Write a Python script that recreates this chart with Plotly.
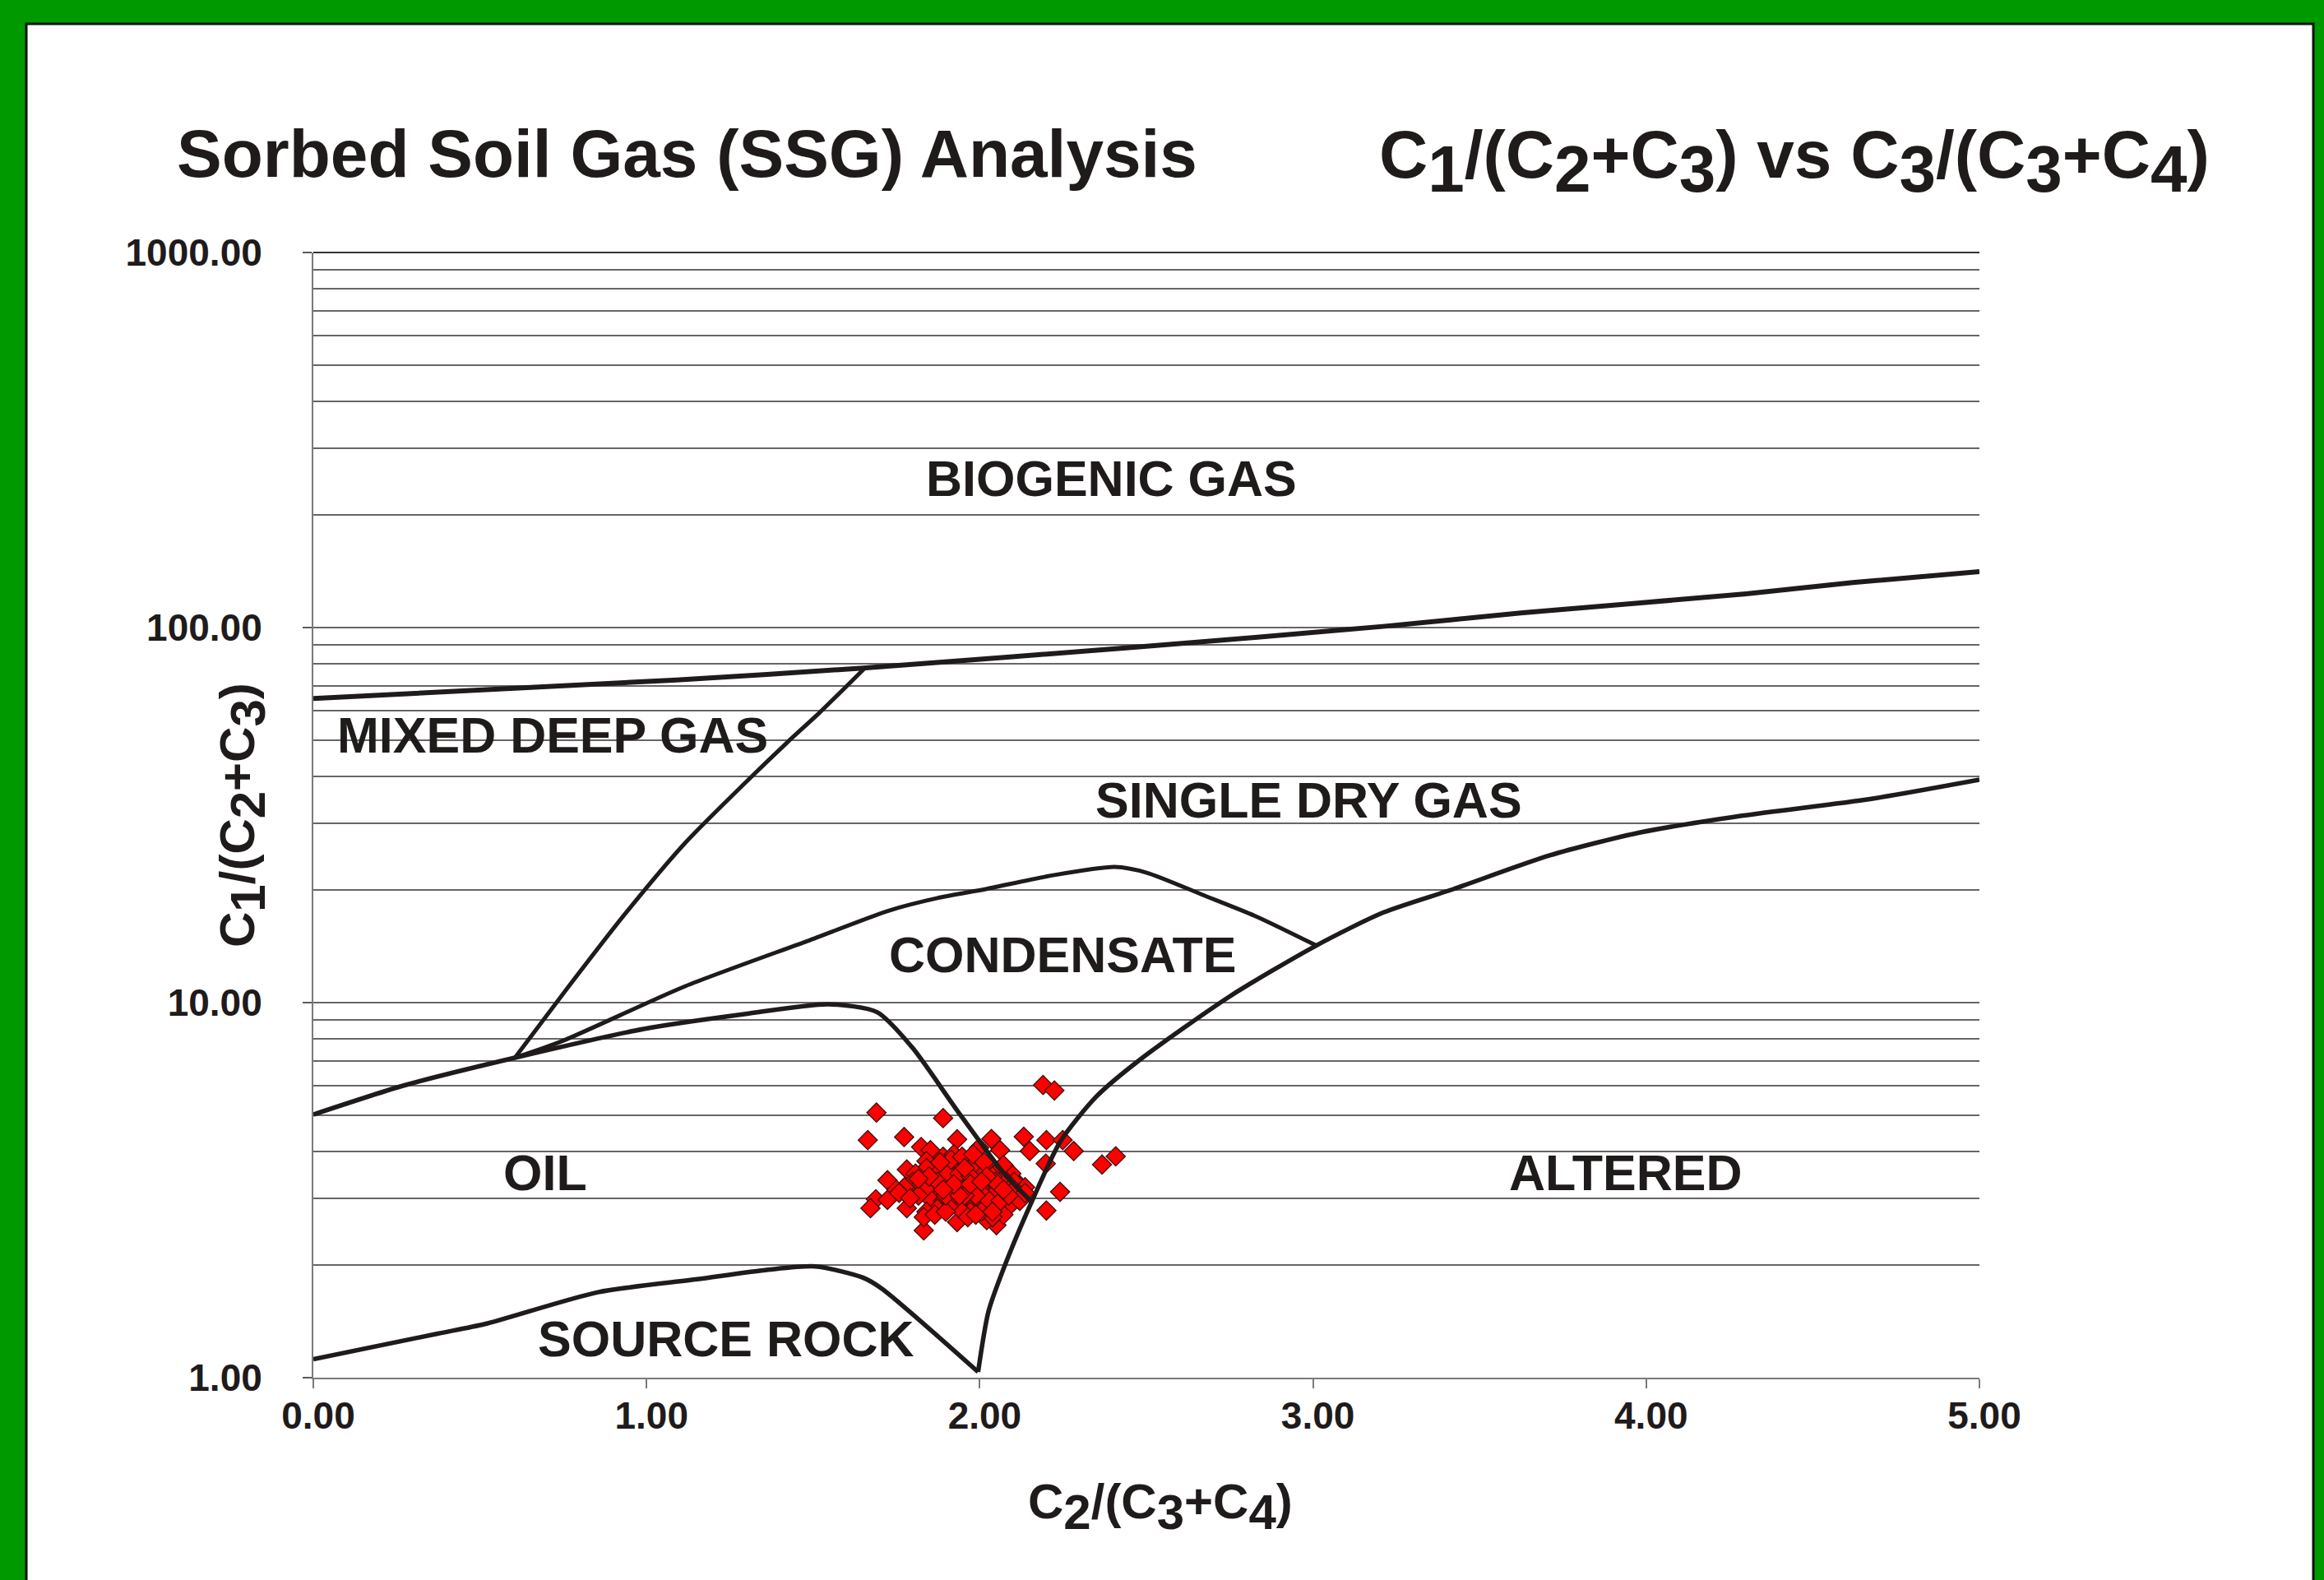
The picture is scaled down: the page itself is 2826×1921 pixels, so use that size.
import numpy as np
import plotly.graph_objects as go

# ---------------- data ----------------
# boundary curves (x = C2/(C3+C4), y = C1/(C2+C3))
biogenic_x = [0.00, 1.09, 1.65, 2.47, 3.21, 3.63, 4.30, 4.62, 5.00]
biogenic_y = [64.7, 72.5, 78.0, 88.7, 100.7, 109.5, 123.0, 131.8, 141.0]

mixed_x = [0.605, 0.758, 0.930, 1.115, 1.298, 1.421, 1.520, 1.655]
mixed_y = [7.13, 10.8, 17.0, 26.6, 38.7, 49.3, 59.4, 78.0]

oil_x = [0.00, 0.274, 0.605, 0.992, 1.298, 1.545, 1.692, 1.797, 1.932, 2.073, 2.153]
oil_y = [5.03, 6.02, 7.13, 8.51, 9.33, 9.90, 9.43, 7.60, 5.16, 3.50, 2.96]

cond_x = [0.605, 0.746, 1.115, 1.483, 1.728, 1.873, 2.021, 2.213, 2.405, 2.501, 2.674, 2.828, 3.010]
cond_y = [7.13, 7.89, 11.05, 14.6, 17.6, 19.0, 20.1, 21.8, 23.0, 22.2, 19.3, 17.0, 14.2]

source_x = [0.00, 0.373, 0.515, 0.854, 1.152, 1.365, 1.507, 1.648, 1.705, 1.995]
source_y = [1.12, 1.31, 1.39, 1.69, 1.83, 1.94, 1.98, 1.85, 1.73, 1.036]

altered_x = [1.995, 2.026, 2.076, 2.160, 2.243, 2.350, 2.482, 2.751,
             3.010, 3.212, 3.423, 3.711, 3.980, 4.287, 4.672, 5.00]
altered_y = [1.036, 1.50, 2.00, 3.00, 4.28, 5.62, 7.06, 10.4,
             14.2, 17.4, 20.1, 24.7, 28.4, 31.5, 34.9, 39.3]

# sample points
ssg_x = [2.190, 2.224, 1.690, 1.890, 1.664, 1.773, 1.932, 2.035, 2.132, 2.200,
         2.249, 1.998, 2.061, 2.150, 2.282, 2.408, 2.367, 2.198, 2.241, 2.200,
         1.824, 1.852, 1.723, 1.781, 1.688, 1.723, 1.672, 1.781, 1.832, 1.932,
         2.050, 2.021,
         1.840, 1.890, 1.922, 1.955, 1.988, 2.021, 2.054, 2.095, 2.120, 2.103,
         2.136, 2.071, 2.038, 2.005, 1.972, 1.939, 1.906, 1.873, 1.840, 1.807,
         1.799, 1.774, 1.750, 1.758, 1.824, 1.857, 1.890, 1.922, 1.955, 1.988,
         2.021, 2.054, 2.087, 2.120, 2.103, 2.071, 2.038, 2.005, 1.972, 1.939,
         1.906, 1.873, 1.840, 1.816, 1.791, 1.857, 1.890, 1.922, 1.955, 1.988,
         2.021, 2.054, 2.087, 2.120, 2.071, 2.038, 2.005, 1.972, 1.939, 1.906,
         1.873, 1.840, 1.832, 1.865, 1.898, 1.964, 1.988, 1.873, 1.906, 1.939,
         1.972, 2.071, 2.103, 2.136, 1.914, 1.881, 1.947, 1.980, 2.013, 2.046,
         2.029, 2.062, 1.988, 1.955, 1.898, 1.873, 1.848, 1.816,
         2.021, 1.939, 1.922, 1.972, 2.038, 2.087, 1.890, 2.005, 1.955, 2.071]
ssg_y = [6.03, 5.83, 5.09, 4.92, 4.30, 4.38, 4.32, 4.33, 4.39, 4.30,
         4.30, 4.10, 4.04, 4.02, 4.02, 3.89, 3.70, 3.72, 3.13, 2.79,
         4.12, 4.04, 3.36, 3.59, 2.99, 2.98, 2.83, 2.83, 2.47, 2.60,
         2.55, 2.63,
         3.78, 3.88, 3.94, 3.81, 3.75, 3.62, 3.56, 3.50, 3.26, 3.33,
         3.22, 3.39, 3.44, 3.50, 3.62, 3.69, 3.69, 3.62, 3.62, 3.50,
         3.33, 3.22, 3.17, 3.11, 3.28, 3.33, 3.39, 3.44, 3.39, 3.33,
         3.28, 3.22, 3.17, 3.06, 2.96, 3.01, 3.06, 3.11, 3.17, 3.22,
         3.17, 3.17, 3.17, 3.06, 3.01, 2.96, 2.96, 3.01, 2.96, 2.91,
         2.86, 2.86, 2.86, 2.96, 2.72, 2.68, 2.77, 2.77, 2.82, 2.86,
         2.82, 2.77, 2.68, 2.72, 2.77, 2.68, 2.72, 3.50, 3.50, 3.50,
         3.44, 3.69, 3.17, 3.11, 3.81, 3.75, 3.88, 3.94, 3.75, 3.33,
         2.96, 2.96, 3.06, 3.06, 3.06, 3.33, 3.44, 3.39,
         3.44, 3.06, 3.28, 3.28, 2.77, 3.06, 3.17, 3.33, 3.62, 3.17]

region_labels = ["BIOGENIC GAS", "MIXED DEEP GAS", "SINGLE DRY GAS", "CONDENSATE",
                 "OIL", "ALTERED", "SOURCE ROCK"]

x_tickvals = [0, 1, 2, 3, 4, 5]
x_ticktext = ["0.00", "1.00", "2.00", "3.00", "4.00", "5.00"]
y_tickvals = [1, 10, 100, 1000]
y_ticktext = ["1.00", "10.00", "100.00", "1000.00"]

title_left = "Sorbed Soil Gas (SSG) Analysis"

# ---------------- figure ----------------
W, H = 2826, 1921
L, R, T, B = 381, 2826 - 2407, 307, 1921 - 1675
PW, PH = W - L - R, H - T - B

def px_x(p):
    return (p - L) / PW

def px_y(p):
    return (H - B - p) / PH

FONT = "Liberation Sans, Arial, Helvetica, sans-serif"
TXT = "#1f1b1b"
LINE = "#1f1b1b"

fig = go.Figure()

fig.add_trace(go.Scatter(
    x=ssg_x, y=ssg_y, mode="markers",
    marker=dict(symbol="diamond", size=18, color="#ff0000",
                line=dict(color="#3a1010", width=1.3)),
    showlegend=False, hoverinfo="x+y"))

curves = [(biogenic_x, biogenic_y, 6), (mixed_x, mixed_y, 5), (oil_x, oil_y, 5.5),
          (cond_x, cond_y, 5), (source_x, source_y, 5.5), (altered_x, altered_y, 5.5)]
for cx, cy, w in curves:
    fig.add_trace(go.Scatter(x=cx, y=cy, mode="lines",
                             line=dict(color=LINE, width=w, shape="spline", smoothing=0.7),
                             showlegend=False, hoverinfo="skip"))

label_pos = [(2.396, 2.397), (0.719, 1.713), (2.987, 1.539), (2.249, 1.128),
             (0.697, 0.547), (3.94, 0.547), (1.239, 0.104)]
for txt, (lx, ly) in zip(region_labels, label_pos):
    fig.add_annotation(x=lx, y=ly, xref="x", yref="y", text=txt, showarrow=False,
                       font=dict(family=FONT, size=61, color=TXT, weight="bold"),
                       xanchor="center", yanchor="middle")

def sub(d, size):
    return "<sub><span style='font-size:%dpx'>%s</span></sub>" % (size, d)

# titles
fig.add_annotation(x=px_x(213), y=px_y(187), xref="paper", yref="paper",
                   text=title_left, showarrow=False, xanchor="left", yanchor="middle",
                   font=dict(family=FONT, size=82, color=TXT, weight="bold"))
s = 80
title_right = ("C" + sub("1", s) + "/(C" + sub("2", s) + "+C" + sub("3", s) + ") vs C" + sub("3", s)
               + "/(C" + sub("3", s) + "+C" + sub("4", s) + ")")
fig.add_annotation(x=px_x(2689), y=px_y(196), xref="paper", yref="paper",
                   text=title_right, showarrow=False, xanchor="right", yanchor="middle",
                   font=dict(family=FONT, size=82, color=TXT, weight="bold"))

s2 = 60
xtitle = "C" + sub("2", s2) + "/(C" + sub("3", s2) + "+C" + sub("4", s2) + ")"
ytitle = "C" + sub("1", s2) + "/(C" + sub("2", s2) + "+C" + sub("3", s2) + ")"
fig.add_annotation(x=px_x(1411), y=px_y(1832), xref="paper", yref="paper",
                   text=xtitle, showarrow=False, xanchor="center", yanchor="middle",
                   font=dict(family=FONT, size=60, color=TXT, weight="bold"))
fig.add_annotation(x=px_x(295), y=px_y(991), xref="paper", yref="paper",
                   text=ytitle, showarrow=False, xanchor="center", yanchor="middle",
                   textangle=-90,
                   font=dict(family=FONT, size=60, color=TXT, weight="bold"))

# white panel with thin black edge over green background
fig.add_shape(type="rect", xref="paper", yref="paper", layer="below",
              x0=px_x(32), x1=px_x(2813), y0=px_y(1990), y1=px_y(29),
              fillcolor="white", line=dict(color="#111111", width=3))
# top gridline at 1000
fig.add_shape(type="line", xref="paper", yref="paper", layer="below",
              x0=0, x1=1, y0=1, y1=1, line=dict(color="#333333", width=2))

minor_vals = [m * 10 ** d for d in range(3) for m in range(2, 10)]

fig.update_layout(
    width=W, height=H, autosize=False,
    margin=dict(l=L, r=R, t=T, b=B, pad=0),
    paper_bgcolor="#009900", plot_bgcolor="white",
    showlegend=False,
    xaxis=dict(range=[0, 5], tickvals=x_tickvals, ticktext=x_ticktext,
               showgrid=False, zeroline=False, showline=True, linecolor="#7a7a7a", linewidth=2,
               ticks="outside", ticklen=11, tickwidth=2, tickcolor="#7a7a7a",
               ticklabelstandoff=-6, ticklabelshift=6,
               tickfont=dict(family=FONT, size=46, color=TXT, weight="bold")),
    yaxis=dict(type="log", range=[0, 3], tickvals=y_tickvals, ticktext=y_ticktext,
               showgrid=True, gridcolor="#666666", gridwidth=1.5,
               zeroline=False, showline=True, linecolor="#7a7a7a", linewidth=2,
               ticks="outside", ticklen=11, tickwidth=2, tickcolor="#5a5a5a",
               ticklabelstandoff=40,
               tickfont=dict(family=FONT, size=46, color=TXT, weight="bold"),
               minor=dict(tickvals=minor_vals, showgrid=True, gridcolor="#666666",
                          gridwidth=1.5, ticks="")),
)

fig.write_html("out.html", config={"displayModeBar": False},
               post_script="document.body.style.margin='0';document.body.style.padding='0';"
                           "document.body.style.background='#009900';")
